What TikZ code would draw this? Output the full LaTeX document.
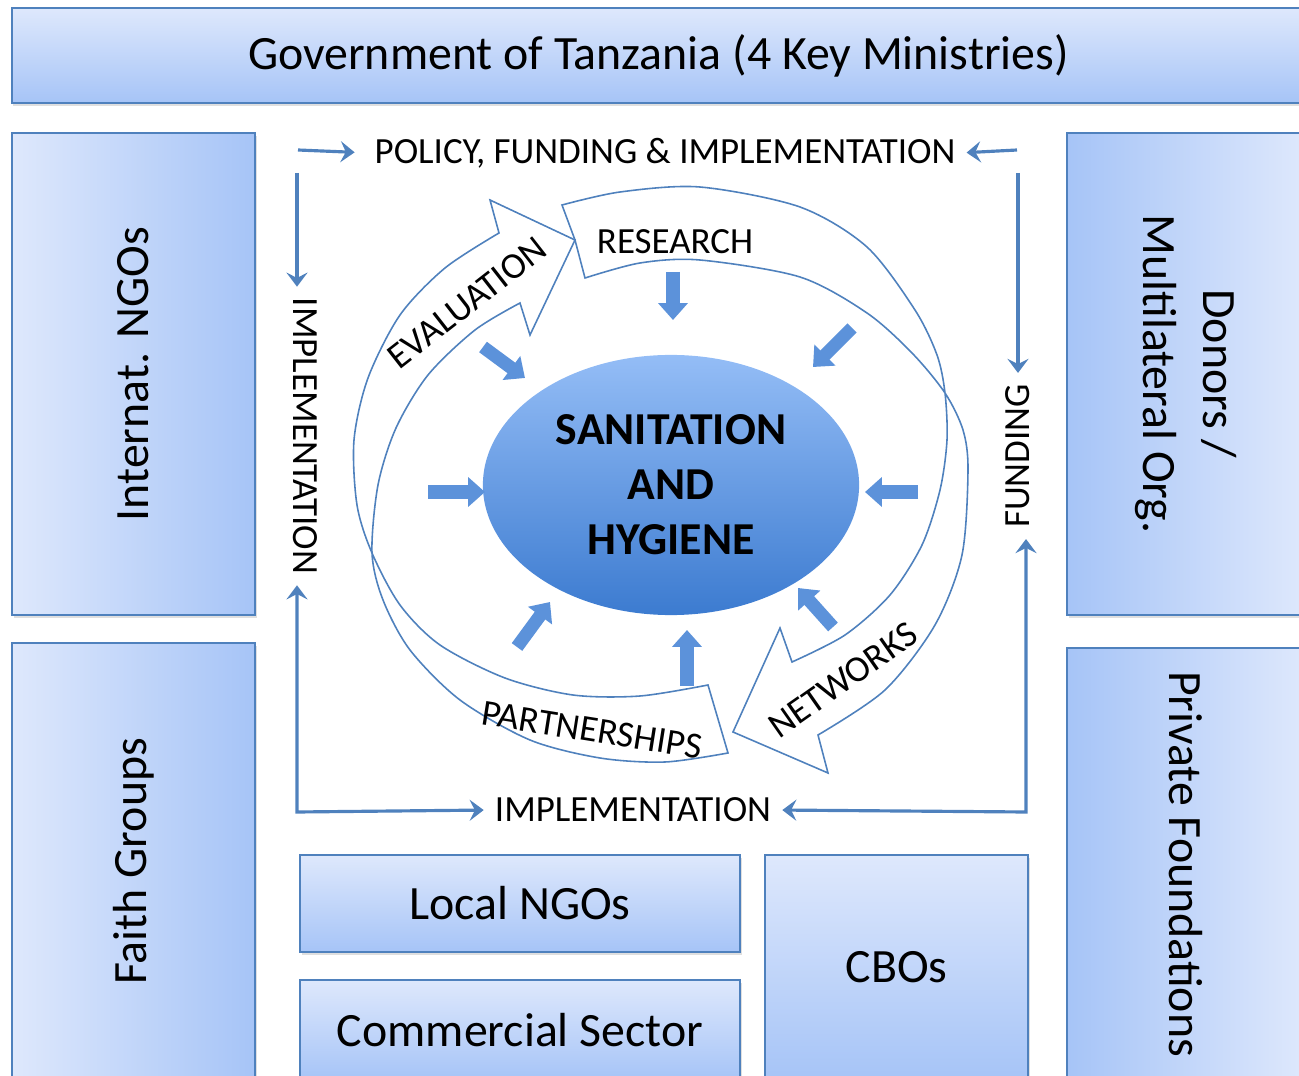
\documentclass[tikz,border=0pt]{standalone}
\usepackage{fontspec}
\setmainfont{Carlito}
\usetikzlibrary{arrows.meta,shadows,shapes.geometric}

\definecolor{boxline}{RGB}{79,129,189}
\definecolor{boxlight}{RGB}{222,232,252}
\definecolor{boxdark}{RGB}{166,196,247}
\definecolor{hubtop}{RGB}{148,189,246}
\definecolor{hubbottom}{RGB}{60,123,208}
\definecolor{blockblue}{RGB}{92,146,218}

\tikzset{
  >={Stealth[length=4pt,width=6pt,inset=1.5pt]},
  orgbox/.style={draw=boxline, line width=0.6pt, top color=boxlight, bottom color=boxdark,
    inner sep=0pt, align=center, font=\fontsize{13.6}{17}\selectfont,
    drop shadow={opacity=0.25, shadow xshift=0.5pt, shadow yshift=-0.8pt}},
  sidebox/.style={orgbox, left color=boxlight, right color=boxdark},
  sideboxr/.style={orgbox, left color=boxdark, right color=boxlight},
  flowlabel/.style={font=\fontsize{10.5}{12}\selectfont, inner sep=1pt},
  flow/.style={draw=boxline, line width=0.9pt, ->, shorten >=2pt},
  flowboth/.style={draw=boxline, line width=0.9pt, <->, shorten >=2pt, shorten <=2pt},
  band/.style={draw=boxline, line width=0.45pt, fill=white},
  blockarrow/.style={blockblue, line width=3.7pt, -{Triangle[length=4.8pt,width=8.2pt]}},
}

\begin{document}
\begin{tikzpicture}[x=0.01cm, y=-0.01cm]
    \clip (0,0) rectangle (1299,1076);

    % Stakeholder boxes
    \node[orgbox, minimum width=12.93cm, minimum height=0.95cm] (gov) at (658.5,55.5) {Government of Tanzania (4 Key Ministries)};
    \node[sidebox, rotate=90, minimum width=4.82cm, minimum height=2.43cm] (intl) at (133.5,374) {Internat. NGOs};
    \node[sidebox, rotate=90, minimum width=4.37cm, minimum height=2.43cm] (faith) at (133.5,861.5) {Faith Groups};
    \node[sideboxr, rotate=-90, minimum width=4.82cm, minimum height=2.38cm] (donors) at (1186,374) {Donors /\\Multilateral Org.};
    \node[sideboxr, rotate=-90, minimum width=4.32cm, minimum height=2.38cm] (private) at (1186,864) {Private Foundations};
    \node[orgbox, minimum width=4.4cm, minimum height=0.97cm] (local) at (520,903.5) {Local NGOs};
    \node[orgbox, minimum width=4.4cm, minimum height=1.0cm] (commercial) at (520,1030) {Commercial Sector};
    \node[orgbox, minimum width=2.63cm, minimum height=2.25cm] (cbos) at (896.5,967.5) {CBOs};

    % Curved cycle arrows
    \draw[band] (562,205) -- plot[smooth] coordinates {(562,205) (620,192) (700,187) (800,207) (867,247) (915,310) (937,355) (945,393) (947,440) (940,490) (922,545) (890,595) (845,635) (792,662)}
        -- (780,628) -- (733,732) -- (828,773) -- (818,735)
        -- plot[smooth] coordinates {(818,735) (885,690) (935,625) (962,555) (968,470) (963,430) (945,393) (912,353) (867,313) (800,277) (700,260) (640,263) (585,278)}
        -- (575,240) -- cycle;
    \draw[band] (708,685) -- plot[smooth] coordinates {(708,685) (640,696) (573,695) (505,678) (440,645) (400,605) (372,553) (357,505) (354,440) (368,378) (400,315) (445,268) (499,233)}
        -- (490,200) -- (575,240) -- (530,335) -- (520,303)
        -- plot[smooth] coordinates {(520,303) (475,330) (428,375) (396,428) (378,485) (372,553) (383,600) (410,650) (460,700) (530,740) (600,758) (665,762) (728,753)}
        -- cycle;

    % Centre
    \node[ellipse, minimum width=3.76cm, minimum height=2.6cm, top color=hubtop, bottom color=hubbottom,
        align=center, font=\bfseries\fontsize{13}{15.6}\selectfont] (hub) at (671,485) {SANITATION\\AND\\HYGIENE};

    % Block arrows towards the centre
    \foreach \n/\tx/\ty/\hx/\hy in {1/673/272/673/320, 2/483/347/525/378, 3/852/328/813/367, 4/428/492/485/492,
            5/918/492/865/492, 6/517/647/550/602, 7/687/686/687/630, 8/833/627/798/588} {
            \coordinate (bt-\n) at (\tx,\ty);
            \coordinate (bh-\n) at (\hx,\hy);
            \draw[blockarrow] (bt-\n) -- (bh-\n);
        }

    % Labels
    \node[flowlabel] (policy) at (665,153) {POLICY, FUNDING \& IMPLEMENTATION};
    \node[flowlabel, rotate=-90] (implL) at (305,436) {IMPLEMENTATION};
    \node[flowlabel, rotate=90] (funding) at (1018,456) {FUNDING};
    \node[flowlabel] (implB) at (633,810) {IMPLEMENTATION};
    \node[flowlabel] (research) at (675,242) {RESEARCH};
    \node[flowlabel, rotate=38] (evaluation) at (467,303) {EVALUATION};
    \node[flowlabel, rotate=35] (networks) at (843,680) {NETWORKS};
    \node[flowlabel, rotate=-9] (partnerships) at (592,730) {PARTNERSHIPS};

    % Flow connectors
    \coordinate (tl) at (298,150);
    \coordinate (tr) at (1017,150);
    \coordinate (lt) at (297,173);
    \coordinate (rt) at (1018,173);
    \coordinate (lb) at (297,812);
    \coordinate (rb) at (1026,812);
    \draw[flow, shorten >=4.5pt] (tl) -- (policy.west);
    \draw[flow] (tr) -- (policy.east);
    \draw[flow] (lt) -- (lt |- implL.west);
    \draw[flow] (rt) -- (rt |- funding.east);
    \draw[flowboth] (lb |- implL.east) -- (lb) -- (implB.west);
    \draw[flowboth] (rb |- funding.west) -- (rb) -- (implB.east);
\end{tikzpicture}
\end{document}
